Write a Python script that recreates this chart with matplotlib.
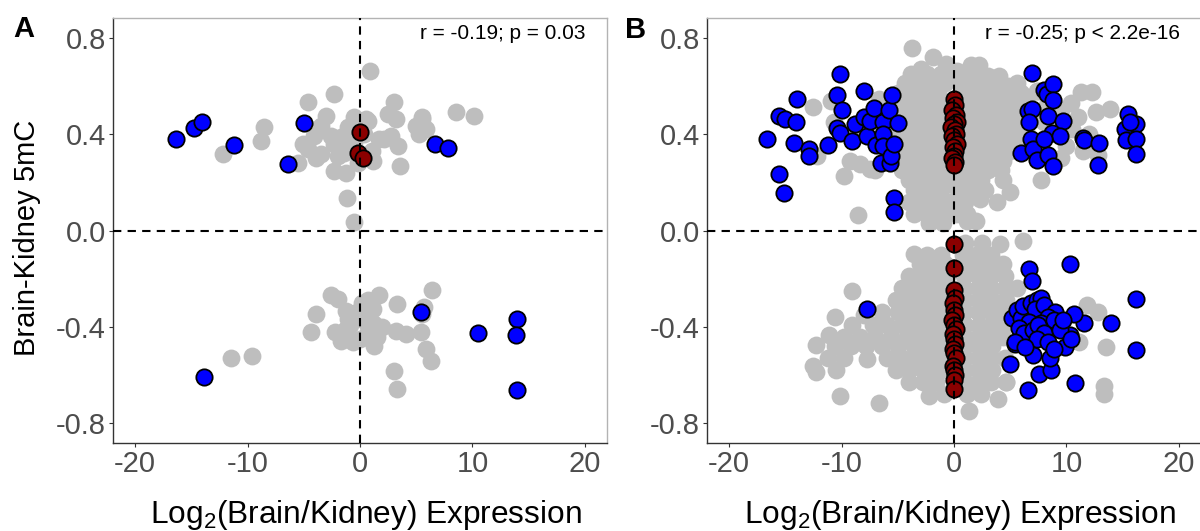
import matplotlib
matplotlib.use("Agg")
import matplotlib.pyplot as plt

plt.rcParams['font.family'] = ['Liberation Sans', 'DejaVu Sans']
plt.rcParams['mathtext.default'] = 'regular'

# ---------------- data ----------------
x_ticks = [-20, -10, 0, 10, 20]
x_tick_labels = ["-20", "-10", "0", "10", "20"]
y_ticks = [-0.8, -0.4, 0.0, 0.4, 0.8]
y_tick_labels = ["-0.8", "-0.4", "0.0", "0.4", "0.8"]
panel_labels = ["A", "B"]
stat_labels = ["r = -0.19; p = 0.03", "r = -0.25; p < 2.2e-16"]
x_title = "Log$_2$(Brain/Kidney) Expression"
y_title = "Brain-Kidney 5mC"

# Panel A: genes not significant (grey)
a_grey_x = [0.9, -2.3, -4.65, 3.05, 8.5, 10.15, 2.45, 3.2, 5.55, 5.0, 5.85, 5.25,
            2.75, 2.15, 3.35, 3.6, 1.1, 0.7, -0.5, -1.1, -3.0, -3.5, -4.05, -5.1,
            -4.65, -3.45, -2.3, -2.6, -1.7, -0.5, -1.4, -2.3, -1.25, -8.5, -8.8,
            -12.2, -1.15, -5.5, -0.5, 0.5, 1.7, 0.4, 0.3, -0.2, 1.2, 5.5, -3.9, -2.0,
            -2.6, -2.0, -3.9, -4.35, -1.25, -1.1, -1.25, -1.7, -0.65, 0.7, 1.7, 1.15,
            1.25, 0.7, 1.55, 1.25, 0.5, 3.3, 3.2, 4.1, 5.4, 5.65, 6.4, 5.85, 6.3,
            3.05, 3.3, -11.5, -9.6, -0.85, 0.2, 0.0, -0.3, 2.0, -2.2, 5.5]
a_grey_y = [0.66, 0.567, 0.532, 0.532, 0.49, 0.476, 0.484, 0.463, 0.463, 0.435, 0.421, 0.40,
            0.393, 0.379, 0.351, 0.267, 0.33, 0.456, 0.469, 0.428, 0.476, 0.435, 0.393, 0.358,
            0.337, 0.316, 0.358, 0.393, 0.386, 0.365, 0.323, 0.247, 0.239, 0.428, 0.372,
            0.316, 0.135, 0.281, 0.035, 0.462, 0.378, 0.40, 0.30, 0.28, 0.29, 0.469, 0.30, 0.31,
            -0.269, -0.283, -0.346, -0.422, -0.332, -0.367, -0.408, -0.457, -0.464, -0.29, -0.269, -0.325,
            -0.387, -0.422, -0.443, -0.478, -0.38, -0.304, -0.415, -0.429, -0.422, -0.318, -0.248, -0.492, -0.54,
            -0.582, -0.659, -0.527, -0.52, -0.392, -0.30, -0.45, -0.34, -0.40, -0.42, -0.345]

# Panel A: significant methylation and expression (blue)
a_blue_x = [-16.4, -14.75, -14.1, -11.2, -6.4, -5.0, 6.7, 7.8, 5.4, 10.5, 14.0, 13.9, 14.0, -13.9]
a_blue_y = [0.378, 0.423, 0.451, 0.353, 0.277, 0.444, 0.36, 0.343, -0.339, -0.427, -0.367, -0.434, -0.661, -0.609]

# Panel A: significant methylation, unchanged expression (dark red)
a_red_x = [0.03, -0.2, 0.24]
a_red_y = [0.407, 0.323, 0.302]

# Panel B: grey genes
b_grey_x = [
    -3.7,
    -1.9, -0.7,
    -2.9, 1.5, 2.2, 0.3,
    -3.8, -2.4, -1.2, 0.6, 1.9, 3.0, 4.0,
    -4.4, -3.2, -2.0, -0.8, 0.5, 1.6, 2.8, 4.0, 4.8, 5.6,
    -5.0, -3.8, -2.6, -1.4, 1.2, 2.4, 3.6, 4.8, 6.0, 7.4,
    -6.7, -4.4, -3.2, -2.0, -0.9, 1.0, 2.2, 3.4, 4.6, 5.6,
    -5.0, -3.8, -2.6, -1.4, 1.4, 2.6, 3.8, 5.0, 6.2,
    -4.4, -3.2, -2.0, -0.9, 1.0, 2.2, 3.4, 4.6, 5.6,
    -5.2, -3.8, -2.6, -1.4, 1.4, 2.6, 3.8, 5.0, 6.0,
    -4.4, -3.2, -2.0, -0.9, 1.0, 2.2, 3.4, 4.6, 5.4,
    -5.0, -3.8, -2.6, -1.4, 1.4, 2.6, 3.8, 5.0,
    -4.4, -3.2, -2.0, -0.9, 1.0, 2.2, 3.4, 4.4,
    -4.6, -3.6, -2.4, -1.2, 0.6, 1.8, 3.0, 4.2,
    -4.0, -2.8, -1.6, -0.4, 1.2, 2.4, 4.4, 7.7,
    -3.6, -2.4, -1.2, 0.4, 1.6, 2.8, 5.0,
    -4.0, -2.8, -1.6, -0.4, 1.0, 2.35, 3.8,
    -3.6, -2.4, -1.2, 0.2, 1.2,
    -2.2, -1.0, 1.2, 2.0,
    -12.5, -10.9, -10.7, -9.24, -9.8, -8.37, -7.5, -8.5, -12.2, -7.0, -6.5, -7.5, -8.5, -6.0, -6.0,
    6.5, 7.5, 8.3, 9.5, 10.4, 11.3, 12.3, 13.85, 12.6, 11.0, 10.5, 12.0, 12.8, 10.0, 9.5,
    11.5, 8.0, 6.5, 7.2, 11.8,
    1.0, 2.5, 4.1, 6.15,
    -3.6, -2.4, -1.2, 0.8, 2.0, 3.3,
    -3.0, -1.8, -0.8, 0.8, 2.0, 3.2, 4.4,
    -4.0, -2.8, -1.6, -0.6, 0.9, 2.1, 3.3, 4.5,
    -4.6, -3.4, -2.2, -1.0, 0.9, 2.1, 3.3, 4.5, 5.6, -9.06,
    -5.2, -4.0, -2.8, -1.6, -0.6, 1.0, 2.2, 3.4, 4.6, 11.8,
    -6.4, -5.0, -3.8, -2.6, -1.4, 0.9, 2.1, 3.3, 4.4, -10.6, -8.0, 12.8,
    -9.06, -7.2, -6.0, -4.6, -3.4, -2.2, -1.0, 1.0, 2.2, 3.4, 4.5,
    -11.1, -9.8, -8.4, -7.0, -5.6, -4.2, -3.0, -1.8, -0.8, 0.9, 2.1, 3.3, 4.4, 11.1,
    -12.3, -10.6, -9.2, -7.8, -6.4, -5.0, -3.6, -2.4, -1.2, 1.0, 2.2, 3.4, 13.5,
    -12.5, -11.2, -9.8, -7.7, -6.0, -4.6, -3.4, -2.2, -1.0, 0.9, 2.1, 3.3, 4.5,
    -12.3, -10.5, -5.2, -4.0, -2.8, -1.6, -0.6, 1.0, 2.2, 3.4, 4.6,
    -4.0, -2.8, -1.6, 0.9, 2.1, 3.3, 4.6, 13.3,
    -10.1, -2.2, -0.9, 1.2, 2.4, 3.9, 13.3,
    -6.7,
    1.37,
]
b_grey_y = [
    0.755,
    0.72, 0.69,
    0.67, 0.686, 0.686, 0.66,
    0.65, 0.65, 0.65, 0.64, 0.65, 0.64, 0.64,
    0.61, 0.61, 0.61, 0.61, 0.61, 0.61, 0.61, 0.60, 0.60, 0.61,
    0.57, 0.57, 0.57, 0.57, 0.57, 0.57, 0.57, 0.57, 0.57, 0.58,
    0.546, 0.53, 0.53, 0.53, 0.53, 0.53, 0.53, 0.53, 0.53, 0.53,
    0.49, 0.49, 0.49, 0.49, 0.49, 0.49, 0.49, 0.49, 0.49,
    0.45, 0.45, 0.45, 0.45, 0.45, 0.45, 0.45, 0.45, 0.45,
    0.41, 0.41, 0.41, 0.41, 0.41, 0.41, 0.41, 0.41, 0.41,
    0.37, 0.37, 0.37, 0.37, 0.37, 0.37, 0.37, 0.37, 0.37,
    0.33, 0.33, 0.33, 0.33, 0.33, 0.33, 0.33, 0.33,
    0.29, 0.29, 0.29, 0.29, 0.29, 0.29, 0.29, 0.29,
    0.25, 0.25, 0.25, 0.25, 0.25, 0.25, 0.25, 0.25,
    0.21, 0.21, 0.21, 0.21, 0.21, 0.21, 0.21, 0.21,
    0.17, 0.17, 0.17, 0.17, 0.17, 0.17, 0.16,
    0.12, 0.12, 0.12, 0.12, 0.12, 0.13, 0.12,
    0.07, 0.07, 0.07, 0.07, 0.07,
    0.03, 0.03, 0.04, 0.04,
    0.511, 0.539, 0.448, 0.288, 0.226, 0.275, 0.254, 0.066, 0.31, 0.25, 0.38, 0.45, 0.40, 0.30, 0.48,
    0.55, 0.58, 0.52, 0.50, 0.53, 0.574, 0.574, 0.504, 0.49, 0.47, 0.42, 0.40, 0.315, 0.35, 0.30,
    0.33, 0.45, 0.40, 0.35, 0.35,
    -0.05, -0.05, -0.056, -0.045,
    -0.098, -0.10, -0.10, -0.10, -0.10, -0.10,
    -0.14, -0.14, -0.14, -0.14, -0.14, -0.14, -0.14,
    -0.19, -0.19, -0.19, -0.19, -0.19, -0.19, -0.19, -0.19,
    -0.24, -0.24, -0.24, -0.24, -0.24, -0.24, -0.24, -0.24, -0.24, -0.252,
    -0.29, -0.29, -0.29, -0.29, -0.29, -0.29, -0.29, -0.29, -0.29, -0.308,
    -0.34, -0.34, -0.34, -0.34, -0.34, -0.34, -0.34, -0.34, -0.34, -0.357, -0.35, -0.336,
    -0.392, -0.39, -0.39, -0.39, -0.39, -0.39, -0.39, -0.39, -0.39, -0.39, -0.39,
    -0.434, -0.44, -0.44, -0.44, -0.44, -0.44, -0.44, -0.44, -0.44, -0.44, -0.44, -0.44, -0.44, -0.462,
    -0.473, -0.48, -0.48, -0.48, -0.48, -0.48, -0.48, -0.48, -0.48, -0.48, -0.48, -0.48, -0.483,
    -0.56, -0.53, -0.53, -0.532, -0.53, -0.53, -0.53, -0.53, -0.53, -0.53, -0.53, -0.53, -0.53,
    -0.588, -0.58, -0.58, -0.58, -0.58, -0.58, -0.58, -0.58, -0.58, -0.58, -0.63,
    -0.63, -0.63, -0.63, -0.63, -0.63, -0.63, -0.63, -0.644,
    -0.686, -0.686, -0.68, -0.68, -0.68, -0.70, -0.68,
    -0.714,
    -0.749,
]

# Panel B: blue genes
b_blue_x = [
    -16.6, -15.55, -15.0, -14.1, -14.0, -14.2, -12.9, -12.9, -15.55, -15.1, -11.2,
    -10.15, -10.4, -9.98, -10.4, -10.1, -9.1, -8.8, -8.0, -8.0, -7.7, -7.5, -7.1,
    -6.9, -6.5, -6.3, -6.3, -6.3, -5.8, -5.7, -5.5, -5.6, -5.3, -4.96, -5.37, -5.37,
    -7.7,
    6.94, 6.6, 6.94, 6.67, 5.98, 6.84, 7.0, 7.35, 8.03, 8.3, 8.8, 8.8, 8.38, 9.74,
    8.7, 9.4, 8.38, 8.8, 8.03, 11.5, 11.6, 12.9, 12.8, 15.5, 15.2, 15.3, 16.2, 16.2,
    16.2, 15.7,
    10.36, 6.67, 6.94, 16.2, 13.95, 16.2, 10.8, 6.6, 7.6, 8.6, 8.5, 4.96, 5.47, 7.0,
    9.85, 10.36, 11.6, 10.7,
    5.13, 5.64, 5.98, 6.15, 6.84, 7.35, 7.7, 7.18, 8.03, 9.0, 8.4, 7.7, 8.9, 6.67,
    5.8, 6.26, 7.0, 7.5, 8.0, 9.4, 10.4, 5.47, 7.35, 8.38, 6.3, 8.9, 9.74,
]
b_blue_y = [
    0.378, 0.473, 0.462, 0.451, 0.546, 0.364, 0.336, 0.308, 0.235, 0.157, 0.353,
    0.647, 0.56, 0.501, 0.427, 0.406, 0.371, 0.441, 0.577, 0.469, 0.392, 0.455, 0.507,
    0.353, 0.28, 0.448, 0.399, 0.35, 0.501, 0.28, 0.56, 0.308, 0.357, 0.445, 0.133, 0.077,
    -0.325,
    0.655, 0.497, 0.504, 0.448, 0.322, 0.378, 0.336, 0.294, 0.581, 0.567, 0.609, 0.542, 0.476, 0.455,
    0.406, 0.392, 0.315, 0.266, 0.378, 0.385, 0.375, 0.364, 0.273, 0.483, 0.42, 0.375, 0.441, 0.378,
    0.318, 0.448,
    -0.137, -0.158, -0.21, -0.284, -0.385, -0.494, -0.633, -0.661, -0.595, -0.578, -0.529, -0.553, -0.469, -0.518,
    -0.483, -0.434, -0.385, -0.347,
    -0.364, -0.329, -0.364, -0.315, -0.301, -0.287, -0.28, -0.325, -0.308, -0.336, -0.357, -0.385, -0.371, -0.378,
    -0.406, -0.427, -0.413, -0.392, -0.427, -0.413, -0.448, -0.462, -0.448, -0.462, -0.483, -0.49, -0.371,
]

# Panel B: dark red genes
b_red_x = [0.0, 0.1, -0.2, 0.2, -0.1, 0.3, 0.0, -0.3, 0.1, 0.2, -0.2, 0.0, 0.3, -0.1, 0.1, 0.0, -0.2, 0.1, 0.0,
           0.0, 0.0, 0.0, 0.1, -0.1, 0.0, 0.1, -0.2, 0.0, 0.2, -0.1, 0.0, 0.1, -0.1, 0.0, 0.2, -0.1, 0.0, 0.1, 0.0, 0.0]
b_red_y = [0.546, 0.52, 0.50, 0.48, 0.465, 0.45, 0.44, 0.43, 0.415, 0.40, 0.39, 0.375, 0.36, 0.345, 0.33, 0.31, 0.30, 0.285, 0.27,
           -0.056, -0.157, -0.245, -0.28, -0.30, -0.33, -0.35, -0.37, -0.39, -0.41, -0.43, -0.45, -0.47, -0.49, -0.51, -0.53,
           -0.56, -0.58, -0.60, -0.62, -0.658]

panels = [
    dict(grey=(a_grey_x, a_grey_y), blue=(a_blue_x, a_blue_y), red=(a_red_x, a_red_y)),
    dict(grey=(b_grey_x, b_grey_y), blue=(b_blue_x, b_blue_y), red=(b_red_x, b_red_y)),
]

# ---------------- figure ----------------
W, H = 1200, 531
fig = plt.figure(figsize=(W / 100, H / 100), dpi=100)

ax_w = 494.6 / W
ax_h = (442.7 - 18.3) / H
ax_bottom = 1 - 442.7 / H
lefts = [112.7 / W, 706.7 / W]
label_pos = [(24, 29), (635.5, 29.5)]

tick_color = '#4D4D4D'
dash = (0, (4, 3))

for i, p in enumerate(panels):
    ax = fig.add_axes([lefts[i], ax_bottom, ax_w, ax_h])
    gx, gy = p['grey']
    bx, by = p['blue']
    rx, ry = p['red']
    ax.scatter(gx, gy, s=165, c='#BEBEBE', linewidths=0, zorder=2)
    ax.scatter(bx, by, s=138, c='#0000FF', edgecolors='black', linewidths=1.3, zorder=3)
    ax.scatter(rx, ry, s=138, c='#8B0000', edgecolors='black', linewidths=1.3, zorder=4)
    ax.axhline(0, color='black', lw=1.5, ls=dash, zorder=5)
    ax.axvline(0, color='black', lw=1.5, ls=dash, zorder=5)

    ax.set_xlim(-22, 22)
    ax.set_ylim(-0.88, 0.88)
    ax.set_xticks(x_ticks)
    ax.set_xticklabels(x_tick_labels)
    ax.set_yticks(y_ticks)
    ax.set_yticklabels(y_tick_labels)
    ax.tick_params(axis='both', direction='out', length=3, width=0.8,
                   color='#333333', labelcolor=tick_color, labelsize=21, pad=2)

    for side in ('left', 'bottom'):
        ax.spines[side].set_color('#333333')
        ax.spines[side].set_linewidth(1.0)
    for side in ('top', 'right'):
        ax.spines[side].set_color('#B3B3B3')
        ax.spines[side].set_linewidth(1.0)

    ax.text(20.1, 0.815, stat_labels[i], ha='right', va='center', fontsize=15, color='black', zorder=6)

    # x-axis title below each panel
    cx = lefts[i] + ax_w / 2 + 6 / W
    fig.text(cx, 1 - 523 / H, x_title, ha='center', va='baseline', fontsize=22.8, color='black')

    lx, ly = label_pos[i]
    fig.text(lx / W, 1 - ly / H, panel_labels[i], ha='center', va='center',
             fontsize=21, fontweight='bold', color='black')

fig.text(27.5 / W, 1 - 237.5 / H, y_title, rotation=90, ha='center', va='center', fontsize=21, color='black')

fig.savefig('out.png', dpi=100)
